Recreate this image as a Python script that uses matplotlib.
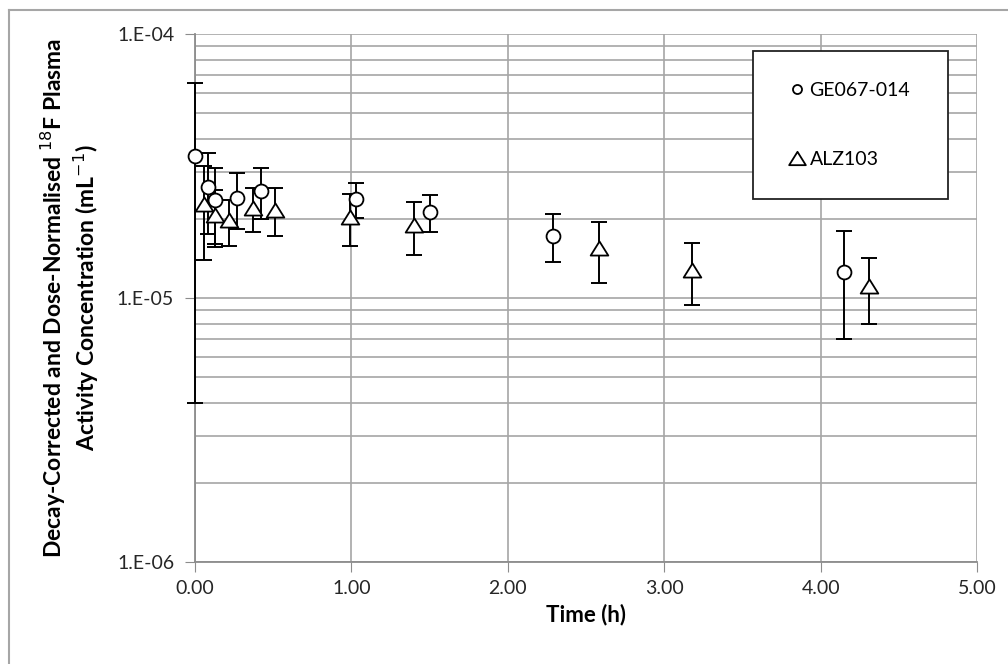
import math
import matplotlib
matplotlib.use('Agg')
import matplotlib.pyplot as plt
import matplotlib.ticker as mticker
from matplotlib.lines import Line2D
from matplotlib.path import Path

plt.rcParams['font.family'] = ['Lato', 'DejaVu Sans']

# --- GE067-014 (mean and SD, mL^-1) ---
ge_time = [0.0, 0.08, 0.13, 0.27, 0.42, 1.03, 1.50, 2.29, 4.15]
ge_conc = [3.45e-5, 2.64e-5, 2.35e-5, 2.40e-5, 2.55e-5, 2.37e-5, 2.12e-5, 1.72e-5, 1.25e-5]
ge_sd = [3.05e-5, 0.89e-5, 0.75e-5, 0.58e-5, 0.55e-5, 0.355e-5, 0.345e-5, 0.355e-5, 0.55e-5]

# --- ALZ103 (mean and SD, mL^-1) ---
alz_time = [0.06, 0.13, 0.22, 0.37, 0.51, 0.99, 1.40, 2.58, 3.18, 4.31]
alz_conc = [2.28e-5, 2.06e-5, 1.97e-5, 2.20e-5, 2.16e-5, 2.03e-5, 1.89e-5, 1.54e-5, 1.28e-5, 1.11e-5]
alz_sd = [0.89e-5, 0.50e-5, 0.39e-5, 0.42e-5, 0.44e-5, 0.45e-5, 0.43e-5, 0.40e-5, 0.34e-5, 0.31e-5]

x_ticks = [0, 1, 2, 3, 4, 5]
y_ticks = [1e-6, 1e-5, 1e-4]

# wide, flat triangle like the Excel marker
TRI = Path([(-1, -0.8), (1, -0.8), (0, 0.8), (-1, -0.8)], closed=True)

W, H = 1008, 664
fig = plt.figure(figsize=(W / 100, H / 100), dpi=100)
ax = fig.add_axes([195 / W, 1 - 562 / H, (977 - 195) / W, (562 - 34) / H])

# chart area border (left & top visible)
fig.add_artist(Line2D([9 / W, 9 / W], [0, 1 - 10 / H], color='#a6a6a6', lw=1.5))
fig.add_artist(Line2D([9 / W, 1], [1 - 10 / H, 1 - 10 / H], color='#a6a6a6', lw=1.5))


def draw_series(t, c, sd, marker, ms, label):
    ax.errorbar(t, c, yerr=sd, fmt='none', ecolor='black', elinewidth=1.4,
                capsize=5.5, capthick=1.4, zorder=3, clip_on=False)
    ax.plot(t, c, linestyle='none', marker=marker, ms=ms, mfc='white',
            mec='black', mew=1.3, label=label, zorder=4, clip_on=False)


draw_series(ge_time, ge_conc, ge_sd, 'o', 10, 'GE067-014')
draw_series(alz_time, alz_conc, alz_sd, TRI, 12.7, 'ALZ103')

ax.set_yscale('log')
ax.set_xlim(0, 5)
ax.set_ylim(1e-6, 1e-4)
ax.set_xticks(x_ticks)
ax.set_yticks(y_ticks)
ax.yaxis.set_minor_locator(mticker.LogLocator(base=10, subs=range(2, 10)))
ax.yaxis.set_minor_formatter(mticker.NullFormatter())
ax.xaxis.set_major_formatter(mticker.FuncFormatter(lambda v, p: f"{v:.2f}"))
ax.yaxis.set_major_formatter(mticker.FuncFormatter(
    lambda v, p: "1.E-%02d" % round(-math.log10(v))))

ax.grid(True, which='major', color='#a6a6a6', lw=1.2)
ax.grid(True, which='minor', axis='y', color='#a6a6a6', lw=1.2)
ax.set_axisbelow(True)
for side in ['top', 'right']:
    ax.spines[side].set_visible(False)
for side in ['left', 'bottom']:
    ax.spines[side].set_color('#8c8c8c')
    ax.spines[side].set_linewidth(1.3)
ax.tick_params(axis='both', which='major', length=7, color='#8c8c8c',
               labelsize=14, labelcolor='#262626')
ax.tick_params(axis='y', pad=8)
ax.tick_params(axis='x', pad=6)
ax.tick_params(axis='y', which='minor', length=0)

ax.set_xlabel('Time (h)', fontsize=16, fontweight='bold', labelpad=5)
ax.set_ylabel('Decay-Corrected and Dose-Normalised $^{18}$F Plasma\n'
              'Activity Concentration (mL$^{-1}$)',
              fontsize=16.5, fontweight='bold', linespacing=1.2)
ax.yaxis.label.set_va('center')
ax.yaxis.set_label_coords(-0.16, 0.5)

leg = fig.legend(loc='upper left', bbox_to_anchor=(753 / W, 1 - 51 / H, 195 / W, 0),
                 mode='expand', frameon=True, fancybox=False, fontsize=14,
                 handlelength=1.4, handletextpad=-0.07, borderpad=1.58,
                 labelspacing=2.7, borderaxespad=0)
leg.get_frame().set_edgecolor('#222222')
leg.get_frame().set_linewidth(1.3)
leg.get_frame().set_alpha(1)
leg.legend_handles[0].set_markersize(6.5)
leg.legend_handles[1].set_markersize(12)

fig.savefig('out.png', dpi=100)
